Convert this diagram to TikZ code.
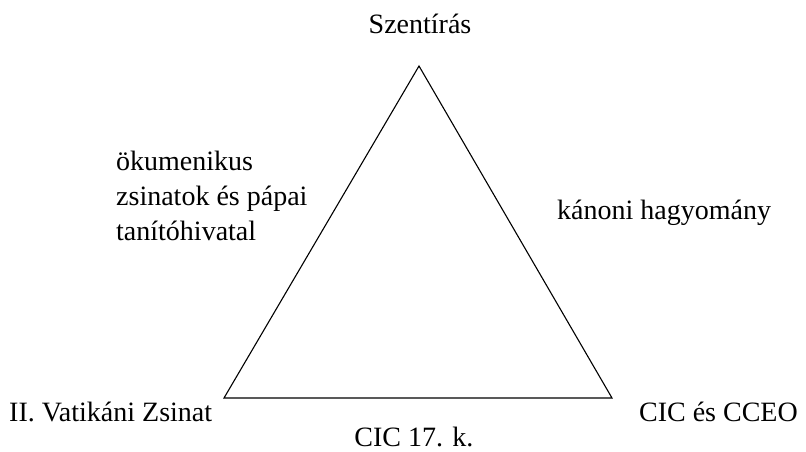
\documentclass[tikz,border=0pt]{standalone}
\usepackage{fontspec}
\setmainfont{Liberation Serif}
\begin{document}
\begin{tikzpicture}[x=1pt,y=-1pt,
  lbl/.style={inner sep=0pt,font=\fontsize{28}{35}\selectfont},
  edge/.style={line width=1.1pt,line join=miter}]
\useasboundingbox[fill=white] (0,0) rectangle (806,452);
\coordinate (top) at (419,66);
\coordinate (bl) at (224,398);
\coordinate (br) at (612,398);
\draw[edge] (top) -- (br) -- (bl) -- cycle;
\node[lbl,anchor=base] (szent) at (420,34) {Szentírás};
\node[lbl,anchor=base west,align=left] (okum) at (116,240) {ökumenikus\\zsinatok és pápai\\tanítóhivatal};
\node[lbl,anchor=base west] (kanoni) at (557,219) {kánoni hagyomány};
\node[lbl,anchor=base west] (vat) at (9,421) {II. Vatikáni Zsinat};
\node[lbl,anchor=base east] (cic) at (798,421) {CIC és CCEO};
\node[lbl,anchor=base] (cic17) at (414,446) {CIC 17. k.};
\end{tikzpicture}
\end{document}
